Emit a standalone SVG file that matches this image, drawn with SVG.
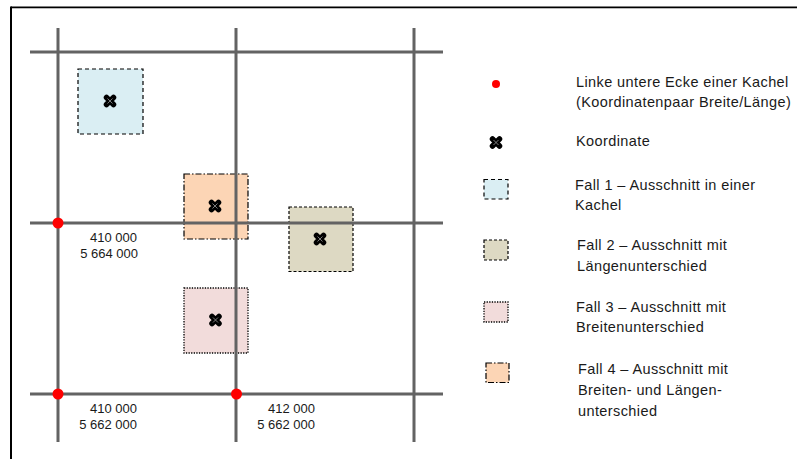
<svg xmlns="http://www.w3.org/2000/svg" width="797" height="459" viewBox="0 0 797 459">
<defs>
<style>
.grid{stroke:#636363;stroke-width:3;fill:none}
.lbl{font-family:"Liberation Sans",Arial,sans-serif;font-size:14.5px;letter-spacing:0.4px;fill:#1a1a1a}
.num{font-family:"Liberation Sans",Arial,sans-serif;font-size:13px;fill:#1a1a1a;text-anchor:end}
.f1{fill:#DAEEF3;stroke:#000;stroke-width:1.2;stroke-dasharray:4,3}
.f2{fill:#DDD9C3;stroke:#000;stroke-width:1.2;stroke-dasharray:3,2}
.f3{fill:#F2DCDB;stroke:#000;stroke-width:1.3;stroke-dasharray:1.3,1.3}
.f4{fill:#FCD5B5;stroke:#000;stroke-width:1.2;stroke-dasharray:6,2,1.5,2}
.dot{fill:#FF0000}
</style>
<g id="cross">
<path d="M-3.5,-3.5L3.5,3.5M3.5,-3.5L-3.5,3.5" stroke="#000" stroke-width="5.5" stroke-linecap="round"/>
<path d="M-2.5,-2.5L2.5,2.5M2.5,-2.5L-2.5,2.5" stroke="#9a9a9a" stroke-width="0.8"/>
</g>
</defs>
<rect width="797" height="459" fill="#fff"/>
<g id="frame">
<line x1="11" y1="7.5" x2="797" y2="7.5" stroke="#000" stroke-width="2"/>
<line x1="11" y1="8.5" x2="797" y2="8.5" stroke="#bbb" stroke-width="1"/>
<line x1="11" y1="6.5" x2="11" y2="459" stroke="#000" stroke-width="2"/>
</g>
<g id="boxes">
<rect id="fall1-box" class="f1" x="78" y="69" width="65" height="65"/>
<rect id="fall4-box" class="f4" x="184" y="174" width="64" height="65"/>
<rect id="fall2-box" class="f2" x="289" y="207" width="64" height="64.5"/>
<rect id="fall3-box" class="f3" x="184" y="288" width="64" height="65"/>
</g>
<g id="connectors">
<line class="grid" x1="58" y1="28" x2="58" y2="442"/>
<line class="grid" x1="236" y1="28" x2="236" y2="442"/>
<line class="grid" x1="414" y1="28" x2="414" y2="442"/>
<line class="grid" x1="30" y1="52" x2="443" y2="52"/>
<line class="grid" x1="30" y1="223" x2="443" y2="223"/>
<line class="grid" x1="30" y1="394" x2="443" y2="394"/>
</g>
<g id="corners">
<circle class="dot" cx="58" cy="223" r="5.5"/>
<circle class="dot" cx="58" cy="394" r="5.5"/>
<circle class="dot" cx="236.5" cy="394" r="5.5"/>
</g>
<g id="coords">
<use href="#cross" x="110" y="101"/>
<use href="#cross" x="215" y="206"/>
<use href="#cross" x="320" y="239"/>
<use href="#cross" x="215.5" y="320"/>
</g>
<g id="labels">
<text class="num" x="137" y="242">410 000</text>
<text class="num" x="138" y="258">5 664 000</text>
<text class="num" x="137" y="413">410 000</text>
<text class="num" x="137" y="429">5 662 000</text>
<text class="num" x="315" y="413">412 000</text>
<text class="num" x="315" y="429">5 662 000</text>
</g>
<g id="legend-corner">
<circle class="dot" cx="496" cy="84" r="4"/>
<text class="lbl" x="576" y="87">Linke untere Ecke einer Kachel</text>
<text class="lbl" x="576" y="107">(Koordinatenpaar Breite/Länge)</text>
</g>
<g id="legend-coord">
<use href="#cross" x="496" y="142.5"/>
<text class="lbl" x="576" y="146">Koordinate</text>
</g>
<g id="legend-fall1">
<rect class="f1" x="484" y="179.5" width="24" height="19.5"/>
<text class="lbl" x="575" y="190">Fall 1 – Ausschnitt in einer</text>
<text class="lbl" x="575" y="210">Kachel</text>
</g>
<g id="legend-fall2">
<rect class="f2" x="484" y="240" width="24" height="20"/>
<text class="lbl" x="577" y="250">Fall 2 – Ausschnitt mit</text>
<text class="lbl" x="577" y="271">Längenunterschied</text>
</g>
<g id="legend-fall3">
<rect class="f3" x="484" y="302" width="24" height="20"/>
<text class="lbl" x="576" y="312">Fall 3 – Ausschnitt mit</text>
<text class="lbl" x="576" y="332">Breitenunterschied</text>
</g>
<g id="legend-fall4">
<rect class="f4" x="486" y="363" width="23" height="19.5"/>
<text class="lbl" x="578" y="374">Fall 4 – Ausschnitt mit</text>
<text class="lbl" x="578" y="395">Breiten- und Längen-</text>
<text class="lbl" x="578" y="416">unterschied</text>
</g>
</svg>
